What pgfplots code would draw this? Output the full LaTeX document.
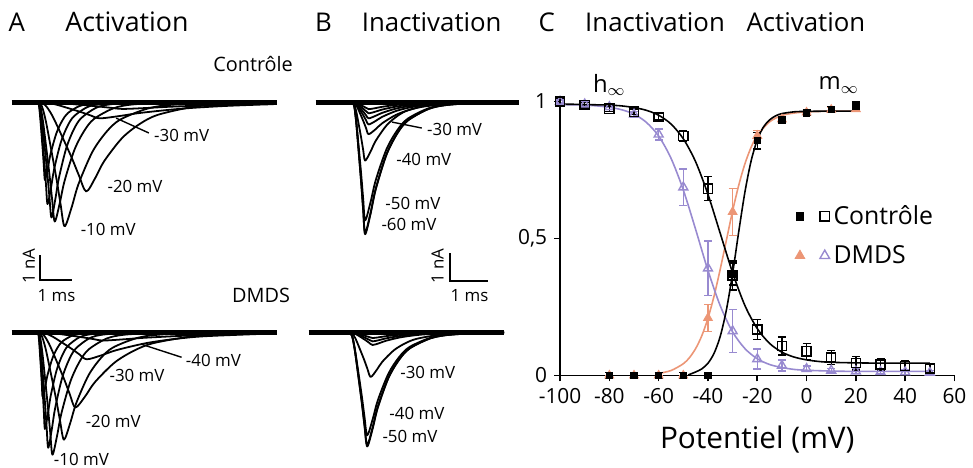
\documentclass[border=0pt]{standalone}
\usepackage{fontspec}
\setmainfont{Open Sans}
\usepackage{pgfplots}
\pgfplotsset{compat=1.18}

\definecolor{dmdsviolet}{RGB}{152,138,208}
\definecolor{dmdsorange}{RGB}{236,150,118}

\pgfplotsset{
  trace/.style={no marks, black, line width=0.9pt, line join=round, smooth},
  base/.style={no marks, black, line width=2.4pt},
  traceaxis/.style={hide axis, scale only axis, clip=false, ymin=-5.5, ymax=0.5, anchor=south west},
  eb/.style={error bars/.cd, y dir=both, y explicit,
    error bar style={line width=0.7pt},
    error mark options={rotate=90, mark size=2pt, line width=0.7pt}},
}

\begin{document}
\begin{tikzpicture}
\begin{scope}[x=0.5pt,y=-0.5pt]
\path[use as bounding box] (0,0) rectangle (973,464);
\end{scope}

% ---------- A, controle ----------
\begin{axis}[traceaxis, at={(5.8pt,-125.75pt)}, width=133.65pt, height=81pt, xmin=-0.8, xmax=7.3]
\addplot[base] coordinates {(-0.8,0) (7.3,0)};
\addplot[trace] coordinates {(0,0) (0.033,-0.087) (0.066,-0.435) (0.11,-1.102) (0.154,-1.798) (0.187,-2.378) (0.22,-2.9) (0.3075,-2.465) (0.395,-1.914) (0.57,-1.16) (0.745,-0.696) (0.92,-0.406) (1.27,-0.145) (1.62,-0.052) (2.32,0)};
\addplot[trace] coordinates {(0,0) (0.045,-0.114) (0.09,-0.57) (0.15,-1.444) (0.21,-2.356) (0.255,-3.116) (0.3,-3.8) (0.4,-3.23) (0.5,-2.508) (0.7,-1.52) (0.9,-0.912) (1.1,-0.532) (1.5,-0.19) (1.9,-0.068) (2.7,0)};
\addplot[trace] coordinates {(0,0) (0.063,-0.129) (0.126,-0.645) (0.21,-1.634) (0.294,-2.666) (0.357,-3.526) (0.42,-4.3) (0.5325,-3.655) (0.645,-2.838) (0.87,-1.72) (1.095,-1.032) (1.32,-0.602) (1.77,-0.215) (2.22,-0.077) (3.12,0)};
\addplot[trace] coordinates {(0,0) (0.078,-0.134) (0.156,-0.668) (0.26,-1.691) (0.364,-2.759) (0.442,-3.649) (0.52,-4.45) (0.67,-3.783) (0.82,-2.937) (1.12,-1.78) (1.42,-1.068) (1.72,-0.623) (2.32,-0.223) (2.92,-0.08) (4.12,0)};
\addplot[trace] coordinates {(0,0) (0.123,-0.139) (0.246,-0.695) (0.41,-1.759) (0.574,-2.871) (0.697,-3.797) (0.82,-4.63) (1.0325,-3.936) (1.245,-3.056) (1.67,-1.852) (2.095,-1.111) (2.52,-0.648) (3.37,-0.232) (4.22,-0.083) (5.92,0)};
\addplot[trace] coordinates {(0,0) (0.222,-0.1) (0.444,-0.5) (0.74,-1.265) (1.036,-2.065) (1.258,-2.731) (1.48,-3.33) (1.755,-2.831) (2.03,-2.198) (2.58,-1.332) (3.13,-0.799) (3.68,-0.466) (4.78,-0.167) (5.88,-0.06) (7.2,-0.01)};
\addplot[trace] coordinates {(0,0) (0.285,-0.018) (0.57,-0.09) (0.95,-0.228) (1.33,-0.372) (1.615,-0.492) (1.9,-0.6) (2.525,-0.51) (3.15,-0.396) (4.4,-0.24) (5.65,-0.144) (6.9,-0.084) (7.2,-0.078)};
\addplot[trace] coordinates {(0,0) (0.39,-0.008) (0.78,-0.038) (1.3,-0.095) (1.82,-0.155) (2.21,-0.205) (2.6,-0.25) (3.35,-0.213) (4.1,-0.165) (5.6,-0.1) (7.1,-0.06)};
\end{axis}

% ---------- A, DMDS ----------
\begin{axis}[traceaxis, at={(5.8pt,-241.75pt)}, width=133.65pt, height=81pt, xmin=-0.8, xmax=7.3]
\addplot[base] coordinates {(-0.8,0) (7.3,0)};
\addplot[trace] coordinates {(0,0) (0.0225,-0.072) (0.045,-0.36) (0.075,-0.912) (0.105,-1.488) (0.1275,-1.968) (0.15,-2.4) (0.225,-2.04) (0.3,-1.584) (0.45,-0.96) (0.6,-0.576) (0.75,-0.336) (1.05,-0.12) (1.35,-0.043) (1.95,0)};
\addplot[trace] coordinates {(0,0) (0.033,-0.108) (0.066,-0.54) (0.11,-1.368) (0.154,-2.232) (0.187,-2.952) (0.22,-3.6) (0.3075,-3.06) (0.395,-2.376) (0.57,-1.44) (0.745,-0.864) (0.92,-0.504) (1.27,-0.18) (1.62,-0.065) (2.32,0)};
\addplot[trace] coordinates {(0,0) (0.048,-0.129) (0.096,-0.645) (0.16,-1.634) (0.224,-2.666) (0.272,-3.526) (0.32,-4.3) (0.425,-3.655) (0.53,-2.838) (0.74,-1.72) (0.95,-1.032) (1.16,-0.602) (1.58,-0.215) (2.0,-0.077) (2.84,0)};
\addplot[trace] coordinates {(0,0) (0.0675,-0.137) (0.135,-0.684) (0.225,-1.733) (0.315,-2.827) (0.3825,-3.739) (0.45,-4.56) (0.5875,-3.876) (0.725,-3.01) (1.0,-1.824) (1.275,-1.094) (1.55,-0.638) (2.1,-0.228) (2.65,-0.082) (3.75,0)};
\addplot[trace] coordinates {(0,0) (0.12,-0.12) (0.24,-0.6) (0.4,-1.52) (0.56,-2.48) (0.68,-3.28) (0.8,-4.0) (0.9875,-3.4) (1.175,-2.64) (1.55,-1.6) (1.925,-0.96) (2.3,-0.56) (3.05,-0.2) (3.8,-0.072) (5.3,0)};
\addplot[trace] coordinates {(0,0) (0.1725,-0.084) (0.345,-0.42) (0.575,-1.064) (0.805,-1.736) (0.9775,-2.296) (1.15,-2.8) (1.45,-2.38) (1.75,-1.848) (2.35,-1.12) (2.95,-0.672) (3.55,-0.392) (4.75,-0.14) (5.95,-0.05) (7.2,-0.01)};
\addplot[trace] coordinates {(0,0) (0.225,-0.03) (0.45,-0.15) (0.75,-0.38) (1.05,-0.62) (1.275,-0.82) (1.5,-1.0) (1.95,-0.85) (2.4,-0.66) (3.3,-0.4) (4.2,-0.24) (5.1,-0.14) (6.9,-0.05)};
\addplot[trace] coordinates {(0,0) (0.3,-0.009) (0.6,-0.045) (1.0,-0.114) (1.4,-0.186) (1.7,-0.246) (2.0,-0.3) (2.625,-0.255) (3.25,-0.198) (4.5,-0.12) (5.75,-0.072) (7.0,-0.042)};
\end{axis}

% ---------- B, controle ----------
\begin{axis}[traceaxis, at={(158.975pt,-128.5pt)}, width=102.375pt, height=84pt, xmin=-0.95, xmax=4.3]
\addplot[base] coordinates {(-0.95,0) (4.3,0)};
\addplot[trace] coordinates {(0,0) (0.0495,-0.143) (0.099,-0.713) (0.165,-1.805) (0.231,-2.945) (0.2805,-3.895) (0.33,-4.75) (0.4675,-4.038) (0.605,-3.135) (0.88,-1.9) (1.155,-1.14) (1.43,-0.665) (1.98,-0.238) (2.53,-0.086) (3.63,0)};
\addplot[trace] coordinates {(0,0) (0.0495,-0.141) (0.099,-0.705) (0.165,-1.786) (0.231,-2.914) (0.2805,-3.854) (0.33,-4.7) (0.4675,-3.995) (0.605,-3.102) (0.88,-1.88) (1.155,-1.128) (1.43,-0.658) (1.98,-0.235) (2.53,-0.085) (3.63,0)};
\addplot[trace] coordinates {(0,0) (0.0495,-0.128) (0.099,-0.638) (0.165,-1.615) (0.231,-2.635) (0.2805,-3.485) (0.33,-4.25) (0.4675,-3.613) (0.605,-2.805) (0.88,-1.7) (1.155,-1.02) (1.43,-0.595) (1.98,-0.213) (2.53,-0.077) (3.63,0)};
\addplot[trace] coordinates {(0,0) (0.0495,-0.063) (0.099,-0.315) (0.165,-0.798) (0.231,-1.302) (0.2805,-1.722) (0.33,-2.1) (0.4675,-1.785) (0.605,-1.386) (0.88,-0.84) (1.155,-0.504) (1.43,-0.294) (1.98,-0.105) (2.53,-0.038) (3.63,0)};
\addplot[trace] coordinates {(0,0) (0.063,-0.035) (0.126,-0.173) (0.21,-0.437) (0.294,-0.713) (0.357,-0.943) (0.42,-1.15) (0.595,-0.978) (0.77,-0.759) (1.12,-0.46) (1.47,-0.276) (1.82,-0.161) (2.52,-0.058) (3.22,-0.021) (4.2,0)};
\addplot[trace] coordinates {(0,0) (0.063,-0.024) (0.126,-0.12) (0.21,-0.304) (0.294,-0.496) (0.357,-0.656) (0.42,-0.8) (0.595,-0.68) (0.77,-0.528) (1.12,-0.32) (1.47,-0.192) (1.82,-0.112) (2.52,-0.04) (3.22,-0.014) (4.2,0)};
\addplot[trace] coordinates {(0,0) (0.063,-0.017) (0.126,-0.087) (0.21,-0.22) (0.294,-0.36) (0.357,-0.476) (0.42,-0.58) (0.595,-0.493) (0.77,-0.383) (1.12,-0.232) (1.47,-0.139) (1.82,-0.081) (2.52,-0.029) (3.22,-0.01) (4.2,0)};
\addplot[trace] coordinates {(0,0) (0.063,-0.012) (0.126,-0.06) (0.21,-0.152) (0.294,-0.248) (0.357,-0.328) (0.42,-0.4) (0.595,-0.34) (0.77,-0.264) (1.12,-0.16) (1.47,-0.096) (1.82,-0.056) (2.52,-0.02) (3.22,-0.007) (4.2,0)};
\addplot[trace] coordinates {(0,0) (0.063,-0.008) (0.126,-0.038) (0.21,-0.095) (0.294,-0.155) (0.357,-0.205) (0.42,-0.25) (0.595,-0.213) (0.77,-0.165) (1.12,-0.1) (1.47,-0.06) (1.82,-0.035) (2.52,-0.013) (3.22,-0.005) (4.2,0)};
\end{axis}

% ---------- B, DMDS ----------
\begin{axis}[traceaxis, at={(155.525pt,-244.5pt)}, width=98.475pt, height=84pt, xmin=-1.05, xmax=4.0]
\addplot[base] coordinates {(-1.05,0) (4.0,0)};
\addplot[trace] coordinates {(0,0) (0.069,-0.123) (0.138,-0.615) (0.23,-1.558) (0.322,-2.542) (0.391,-3.362) (0.46,-4.1) (0.5975,-3.485) (0.735,-2.706) (1.01,-1.64) (1.285,-0.984) (1.56,-0.574) (2.11,-0.205) (2.66,-0.074) (3.76,0)};
\addplot[trace] coordinates {(0,0) (0.069,-0.121) (0.138,-0.606) (0.23,-1.535) (0.322,-2.505) (0.391,-3.313) (0.46,-4.04) (0.5975,-3.434) (0.735,-2.666) (1.01,-1.616) (1.285,-0.97) (1.56,-0.566) (2.11,-0.202) (2.66,-0.073) (3.76,0)};
\addplot[trace] coordinates {(0,0) (0.069,-0.111) (0.138,-0.555) (0.23,-1.406) (0.322,-2.294) (0.391,-3.034) (0.46,-3.7) (0.5975,-3.145) (0.735,-2.442) (1.01,-1.48) (1.285,-0.888) (1.56,-0.518) (2.11,-0.185) (2.66,-0.067) (3.76,0)};
\addplot[trace] coordinates {(0,0) (0.0825,-0.048) (0.165,-0.24) (0.275,-0.608) (0.385,-0.992) (0.4675,-1.312) (0.55,-1.6) (0.7,-1.36) (0.85,-1.056) (1.15,-0.64) (1.45,-0.384) (1.75,-0.224) (2.35,-0.08) (2.95,-0.029) (4.0,0)};
\addplot[trace] coordinates {(0,0) (0.09,-0.014) (0.18,-0.068) (0.3,-0.171) (0.42,-0.279) (0.51,-0.369) (0.6,-0.45) (0.775,-0.383) (0.95,-0.297) (1.3,-0.18) (1.65,-0.108) (2.0,-0.063) (2.7,-0.023) (3.4,-0.008) (4.0,0)};
\addplot[trace] coordinates {(0,0) (0.09,-0.01) (0.18,-0.048) (0.3,-0.122) (0.42,-0.198) (0.51,-0.262) (0.6,-0.32) (0.775,-0.272) (0.95,-0.211) (1.3,-0.128) (1.65,-0.077) (2.0,-0.045) (2.7,-0.016) (3.4,-0.006) (4.0,0)};
\addplot[trace] coordinates {(0,0) (0.09,-0.006) (0.18,-0.03) (0.3,-0.076) (0.42,-0.124) (0.51,-0.164) (0.6,-0.2) (0.775,-0.17) (0.95,-0.132) (1.3,-0.08) (1.65,-0.048) (2.0,-0.028) (2.7,-0.01) (3.4,-0.004) (4.0,0)};
\end{axis}

% ---------- C, courbes d'activation et d'inactivation ----------
\begin{axis}[at={(282.15pt,-189.15pt)}, anchor=south west, scale only axis,
  width=198.7pt, height=138pt, xmin=-100, xmax=60, ymin=0, ymax=1,
  axis x line*=bottom, axis y line*=left, clip=false,
  xtick={-100,-80,-60,-40,-20,0,20,40,60},
  xticklabels={-100,-80,-60,-40,-20,0,20,40,60},
  ytick={0,0.5,1}, yticklabels={0,{0,5},1},
  tick align=outside, major tick length=3pt,
  tick style={line width=0.8pt, black},
  axis line style={line width=0.8pt},
  ticklabel style={font=\fontsize{10.5}{12}\selectfont},
  xlabel={Potentiel (mV)},
  xlabel style={font=\fontsize{15}{17}\selectfont, at={(axis description cs:0.5,-0.235)}, anchor=center},
  legend columns=1,
  legend style={draw=none, fill=none, at={(0.595,0.51)}, anchor=west,
    font=\fontsize{12.5}{15}\selectfont, row sep=5pt, inner sep=0pt},
  legend cell align=left,
]
% courbes ajustees
\addplot[dmdsorange, line width=0.8pt, smooth, no marks, forget plot] coordinates {(-60,0.0074) (-55,0.018) (-50,0.0428) (-47.5,0.0652) (-45,0.0981) (-42.5,0.145) (-40,0.209) (-37.5,0.291) (-35,0.389) (-32.5,0.495) (-30,0.601) (-27.5,0.695) (-25,0.773) (-22.5,0.833) (-20,0.876) (-15,0.926) (-10,0.949) (-5,0.958) (0,0.962) (10,0.965) (20,0.965)};
\addplot[dmdsviolet, line width=0.8pt, smooth, no marks, forget plot] coordinates {(-100,0.989) (-95,0.988) (-90,0.987) (-85,0.984) (-80,0.979) (-75,0.970) (-70,0.954) (-65,0.924) (-60,0.874) (-55,0.793) (-50,0.677) (-45,0.533) (-40,0.383) (-35,0.254) (-30,0.159) (-25,0.098) (-20,0.061) (-15,0.040) (-10,0.029) (-5,0.022) (0,0.019) (10,0.016) (20,0.015) (50,0.015)};
\addplot[black, line width=0.8pt, smooth, no marks, forget plot] coordinates {(-100,0.990) (-95,0.990) (-90,0.989) (-85,0.988) (-80,0.987) (-75,0.984) (-70,0.978) (-65,0.968) (-60,0.950) (-55,0.918) (-50,0.864) (-45,0.780) (-40,0.661) (-35,0.518) (-30,0.375) (-25,0.255) (-20,0.171) (-15,0.117) (-10,0.085) (-5,0.067) (0,0.057) (5,0.051) (10,0.048) (20,0.046) (30,0.045) (50,0.045)};
\addplot[black, line width=0.8pt, smooth, no marks, forget plot] coordinates {(-48,0.002) (-45,0.0128) (-42.5,0.0241) (-40,0.0447) (-37.5,0.0814) (-35,0.1436) (-32.5,0.2405) (-30,0.373) (-27.5,0.526) (-25,0.670) (-22.5,0.783) (-20,0.860) (-17.5,0.907) (-15,0.933) (-12.5,0.948) (-10,0.956) (-5,0.9625) (0,0.964) (10,0.965) (20,0.965)};
% points mesures
\addplot[dmdsorange, only marks, mark=triangle*, mark size=2.6pt, forget plot, eb] coordinates {(-80,0) +- (0,0) (-70,0) +- (0,0) (-60,0) +- (0,0) (-50,0) +- (0,0) (-40,0.21) +- (0,0.05) (-30,0.597) +- (0,0.085) (-20,0.875) +- (0,0.02) (-10,0.935) +- (0,0.01) (0,0.96) +- (0,0.008) (10,0.97) +- (0,0.008) (20,0.972) +- (0,0.008)};
\addplot[dmdsviolet, only marks, mark=triangle, mark size=2.6pt, line width=0.7pt, mark options={fill=white}, forget plot, eb] coordinates {(-100,1.0) +- (0,0.005) (-90,0.99) +- (0,0.008) (-80,0.98) +- (0,0.008) (-70,0.953) +- (0,0.01) (-60,0.88) +- (0,0.02) (-50,0.687) +- (0,0.066) (-40,0.391) +- (0,0.1) (-30,0.162) +- (0,0.078) (-20,0.06) +- (0,0.036) (-10,0.036) +- (0,0.02) (0,0.024) +- (0,0.01) (10,0.018) +- (0,0.008) (20,0.015) +- (0,0.008) (30,0.013) +- (0,0.008) (40,0.012) +- (0,0.008) (50,0.01) +- (0,0.008)};
\addplot[black, only marks, mark=square*, mark size=1.6pt, forget plot, eb] coordinates {(-80,0) +- (0,0.01) (-70,0) +- (0,0.01) (-60,0) +- (0,0.01) (-50,0) +- (0,0.01) (-40,0) +- (0,0.01) (-30,0.37) +- (0,0.04) (-20,0.857) +- (0,0.03) (-10,0.933) +- (0,0.01) (0,0.959) +- (0,0.01) (10,0.971) +- (0,0.01) (20,0.983) +- (0,0.015)};
\addplot[black, only marks, mark=square, mark size=2.3pt, line width=0.7pt, mark options={fill=white}, forget plot, eb] coordinates {(-100,1.0) +- (0,0.01) (-90,0.987) +- (0,0.01) (-80,0.974) +- (0,0.01) (-70,0.963) +- (0,0.01) (-60,0.944) +- (0,0.012) (-50,0.875) +- (0,0.02) (-40,0.682) +- (0,0.044) (-30,0.365) +- (0,0.053) (-20,0.168) +- (0,0.036) (-10,0.108) +- (0,0.033) (0,0.088) +- (0,0.029) (10,0.066) +- (0,0.025) (20,0.045) +- (0,0.025) (30,0.04) +- (0,0.022) (40,0.035) +- (0,0.018) (50,0.026) +- (0,0.015)};
% legende
\addlegendimage{legend image code/.code={
  \draw[only marks, mark=square*, mark size=1.8pt, black] plot coordinates {(0pt,0pt)};
  \draw[only marks, mark=square, mark size=2.4pt, line width=0.7pt, black] plot coordinates {(12.5pt,0pt)};}}
\addlegendentry{Contrôle}
\addlegendimage{legend image code/.code={
  \draw[only marks, mark=triangle*, mark size=2.8pt, dmdsorange] plot coordinates {(0pt,0pt)};
  \draw[only marks, mark=triangle, mark size=2.8pt, line width=0.7pt, dmdsviolet] plot coordinates {(12.5pt,0pt)};}}
\addlegendentry{DMDS}
\node[font=\fontsize{12}{14}\selectfont] at (axis cs:-80,1.06) {h$_\infty$};
\node[font=\fontsize{12}{14}\selectfont] at (axis cs:13,1.06) {m$_\infty$};
\end{axis}

% ---------- textes, echelles ----------
\begin{scope}[x=0.5pt,y=-0.5pt]
\node[font=\fontsize{13}{15}\selectfont] at (17,22) {A};
\node[font=\fontsize{13.5}{15}\selectfont] at (128,22) {Activation};
\node[font=\fontsize{13}{15}\selectfont] at (326,22) {B};
\node[font=\fontsize{13}{15}\selectfont] at (435,22) {Inactivation};
\node[font=\fontsize{13}{15}\selectfont] at (551,22) {C};
\node[font=\fontsize{13}{15}\selectfont] at (660,22) {Inactivation};
\node[font=\fontsize{13}{15}\selectfont] at (812,22) {Activation};
\node[font=\fontsize{10}{12}\selectfont] at (255,64) {Contrôle};
\node[font=\fontsize{10}{12}\selectfont] at (263,298) {DMDS};

\begin{scope}[every node/.style={font=\fontsize{8.5}{10}\selectfont, anchor=west, inner sep=1pt}]
\node at (153,136) {-30 mV};
\node at (106,188) {-20 mV};
\node at (79,231) {-10 mV};
\node at (185,363) {-40 mV};
\node at (108,378) {-30 mV};
\node at (84,425) {-20 mV};
\node at (52,463) {-10 mV};
\node at (428,130) {-30 mV};
\node at (397,161) {-40 mV};
\node at (386,205) {-50 mV};
\node at (382,226) {-60 mV};
\node at (401,375) {-30 mV};
\node at (390,417) {-40 mV};
\node at (383,440) {-50 mV};
\end{scope}
\draw[line width=0.7pt] (117,119) -- (150,134);
\draw[line width=0.7pt] (143,347) -- (183,360);
\draw[line width=0.7pt] (395,123) -- (425,129);

\draw[line width=1pt] (40,257) -- (40,282) -- (73,282);
\node[rotate=90, font=\fontsize{8.5}{10}\selectfont] at (29,268) {1 nA};
\node[font=\fontsize{8.5}{10}\selectfont] at (57,298) {1 ms};
\draw[line width=1pt] (453,255) -- (453,283) -- (492,283);
\node[rotate=90, font=\fontsize{8.5}{10}\selectfont] at (441,268) {1 nA};
\node[font=\fontsize{8.5}{10}\selectfont] at (473,298) {1 ms};
\end{scope}
\end{tikzpicture}
\end{document}
